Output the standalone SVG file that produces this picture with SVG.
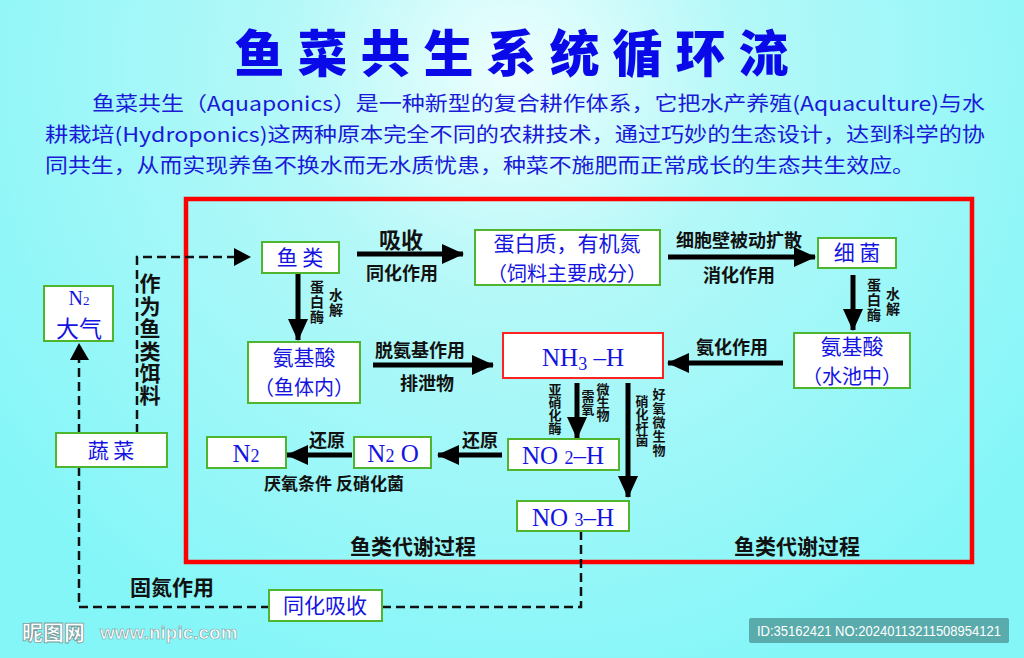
<svg xmlns="http://www.w3.org/2000/svg" width="1024" height="658" viewBox="0 0 1024 658">
<defs>
<radialGradient id="bg" cx="512" cy="70" r="650" gradientUnits="userSpaceOnUse">
<stop offset="0" stop-color="#eefefe"/>
<stop offset="0.35" stop-color="#b4f8f8"/>
<stop offset="1" stop-color="#84f6f8"/>
</radialGradient>
<marker id="ah" markerUnits="userSpaceOnUse" markerWidth="24" markerHeight="22" refX="21" refY="10" orient="auto">
<path d="M0,0 L22,10 L0,20 Z" fill="#000"/>
</marker>
</defs>
<style>
.node rect{fill:#fff;stroke:#4fb52e;stroke-width:2}
.nt{font-family:"Noto Sans CJK SC","Noto Sans",sans-serif;font-size:21px;fill:#1414e0;text-anchor:middle}
.nt2{font-size:20px}
.chem{font-family:"Liberation Serif","DejaVu Serif",serif;fill:#1414e0;text-anchor:middle}
.lb{font-family:"Noto Sans CJK SC",sans-serif;font-weight:bold;fill:#111;text-anchor:middle}
.vt{font-family:"Noto Sans CJK SC",sans-serif;font-weight:bold;fill:#111;writing-mode:vertical-rl;text-anchor:start}
.sol{stroke:#000;stroke-width:5;fill:none;marker-end:url(#ah)}
.dash{stroke:#111;stroke-width:2.5;fill:none;stroke-dasharray:9 5}
.para{font-family:"Noto Sans CJK SC",sans-serif;font-size:20px;fill:#1a1ad8}
</style>
<rect x="0" y="0" width="1024" height="658" fill="url(#bg)"/>

<text x="518" y="72" font-family="Noto Sans CJK SC,sans-serif" font-weight="900" font-size="50" fill="#0a0ae8" text-anchor="middle" letter-spacing="13">鱼菜共生系统循环流</text>

<text class="para" x="92" y="111" textLength="893" lengthAdjust="spacingAndGlyphs">鱼菜共生（Aquaponics）是一种新型的复合耕作体系，它把水产养殖(Aquaculture)与水</text>
<text class="para" x="45" y="142" textLength="940" lengthAdjust="spacingAndGlyphs">耕栽培(Hydroponics)这两种原本完全不同的农耕技术，通过巧妙的生态设计，达到科学的协</text>
<text class="para" x="45" y="173" textLength="870" lengthAdjust="spacingAndGlyphs">同共生，从而实现养鱼不换水而无水质忧患，种菜不施肥而正常成长的生态共生效应。</text>

<rect x="186" y="199" width="786" height="363" fill="none" stroke="#ff0000" stroke-width="4.5"/>

<g id="connectors">
<line class="sol" x1="357" y1="254" x2="463" y2="254"/>
<line class="sol" x1="668" y1="257" x2="815" y2="257"/>
<line class="sol" x1="298" y1="273" x2="298" y2="340"/>
<line class="sol" x1="853" y1="275" x2="853" y2="330"/>
<line class="sol" x1="373" y1="365" x2="493" y2="365"/>
<line class="sol" x1="783" y1="363" x2="668" y2="363"/>
<line class="sol" x1="577" y1="383" x2="577" y2="438"/>
<line class="sol" x1="628" y1="383" x2="628" y2="497"/>
<line class="sol" x1="502" y1="455" x2="438" y2="455"/>
<line class="sol" x1="352" y1="455" x2="287" y2="455"/>
<path class="dash" d="M137,433 L137,257 L236,257"/>
<path d="M234,248 L251,257 L234,266 Z" fill="#000"/>
<path class="dash" d="M79,433 L79,358"/>
<path d="M70,360 L79,343 L89,360 Z" fill="#000"/>
<path class="dash" d="M79,467 L79,607 L269,607"/>
<path class="dash" d="M382,607 L581,607 L581,531"/>
</g>

<g id="lbl-xishou"><text class="lb" x="401" y="248" font-size="22">吸收</text><text class="lb" x="402" y="280" font-size="18">同化作用</text></g>
<g id="lbl-xibaobi"><text class="lb" x="739" y="247" font-size="18">细胞壁被动扩散</text><text class="lb" x="739" y="282" font-size="18">消化作用</text></g>
<g id="lbl-tuoanji"><text class="lb" x="420" y="357" font-size="18">脱氨基作用</text><text class="lb" x="427" y="390" font-size="18">排泄物</text></g>
<g id="lbl-anhua"><text class="lb" x="732" y="354" font-size="18">氨化作用</text></g>
<g id="lbl-huanyuan"><text class="lb" x="480" y="447" font-size="18">还原</text><text class="lb" x="327" y="447" font-size="18">还原</text></g>
<text class="lb" x="334" y="490" font-size="17">厌氧条件 反硝化菌</text>
<text class="lb" x="413" y="554" font-size="21">鱼类代谢过程</text>
<text class="lb" x="797" y="554" font-size="21">鱼类代谢过程</text>
<text class="lb" x="172" y="595" font-size="21">固氮作用</text>

<g id="vlabels">
<text class="vt" x="150" y="273" font-size="21" letter-spacing="1.4">作为鱼类饵料</text>
<text class="vt" x="317" y="280" font-size="14" letter-spacing="1">蛋白酶</text>
<text class="vt" x="336" y="288" font-size="14" letter-spacing="1">水解</text>
<text class="vt" x="874" y="278" font-size="14" letter-spacing="1">蛋白酶</text>
<text class="vt" x="893" y="287" font-size="14" letter-spacing="1">水解</text>
<text class="vt" x="555" y="383" font-size="13">亚硝化酶</text>
<text class="vt" x="588" y="390" font-size="13">需氧</text>
<text class="vt" x="603" y="383" font-size="13">微生物</text>
<text class="vt" x="642" y="395" font-size="13">硝化杆菌</text>
<text class="vt" x="659" y="388" font-size="13" letter-spacing="1">好氧微生物</text>
</g>

<g id="yulei" class="node"><rect x="262" y="242" width="77" height="31"/><text class="nt" x="300" y="265">鱼 类</text></g>
<g id="danbaizhi" class="node"><rect x="475" y="230" width="185" height="55"/><text class="nt" x="567" y="251">蛋白质，有机氮</text><text class="nt nt2" x="567" y="281">（饲料主要成分）</text></g>
<g id="xijun" class="node"><rect x="818" y="238" width="78" height="30"/><text class="nt" x="857" y="260">细 菌</text></g>
<g id="anjisuan1" class="node"><rect x="248" y="342" width="112" height="61"/><text class="nt" x="304" y="365">氨基酸</text><text class="nt nt2" x="304" y="395">（鱼体内）</text></g>
<g id="nh3" class="node"><rect x="503" y="333" width="160" height="45" style="stroke:#ff2020"/><text class="chem" x="583" y="366" font-size="25">NH<tspan font-size="18" dy="4">3</tspan><tspan dy="-4"> –H</tspan></text></g>
<g id="anjisuan2" class="node"><rect x="794" y="333" width="116" height="55"/><text class="nt" x="852" y="354">氨基酸</text><text class="nt nt2" x="852" y="384">（水池中）</text></g>
<g id="no2" class="node"><rect x="508" y="439" width="111" height="31"/><text class="chem" x="563" y="464" font-size="25">NO <tspan font-size="18">2</tspan>–H</text></g>
<g id="no3" class="node"><rect x="517" y="501" width="112" height="30"/><text class="chem" x="573" y="526" font-size="25">NO <tspan font-size="18">3</tspan>–H</text></g>
<g id="n2o" class="node"><rect x="354" y="437" width="77" height="31"/><text class="chem" x="393" y="462" font-size="25">N<tspan font-size="18">2</tspan> O</text></g>
<g id="n2" class="node"><rect x="207" y="437" width="79" height="31"/><text class="chem" x="246" y="462" font-size="25">N<tspan font-size="18">2</tspan></text></g>
<g id="daqi" class="node"><rect x="44" y="286" width="69" height="55"/><text class="chem" x="79" y="305" font-size="20">N<tspan font-size="13">2</tspan></text><text class="nt" x="79" y="337" style="font-size:23px">大气</text></g>
<g id="shucai" class="node"><rect x="56" y="433" width="111" height="34"/><text class="nt" x="111" y="458">蔬 菜</text></g>
<g id="tonghua" class="node"><rect x="269" y="590" width="113" height="31"/><text class="nt" x="325" y="613">同化吸收</text></g>

<g id="watermark">
<text x="22" y="640" font-family="Noto Sans CJK SC,sans-serif" font-weight="900" font-size="21" fill="#fff" stroke="#7a9a9a" stroke-width="0.8">昵图网</text>
<text x="100" y="639" font-family="Liberation Sans,sans-serif" font-weight="bold" font-size="19" fill="#fff" stroke="#7a9a9a" stroke-width="0.6">www.nipic.com</text>
<rect x="749" y="618" width="260" height="25" rx="2" fill="#5aabab"/>
<text x="757" y="636" font-family="Liberation Sans,sans-serif" font-size="14" fill="#fff" textLength="244" lengthAdjust="spacingAndGlyphs">ID:35162421 NO:20240113211508954121</text>
</g>
</svg>
